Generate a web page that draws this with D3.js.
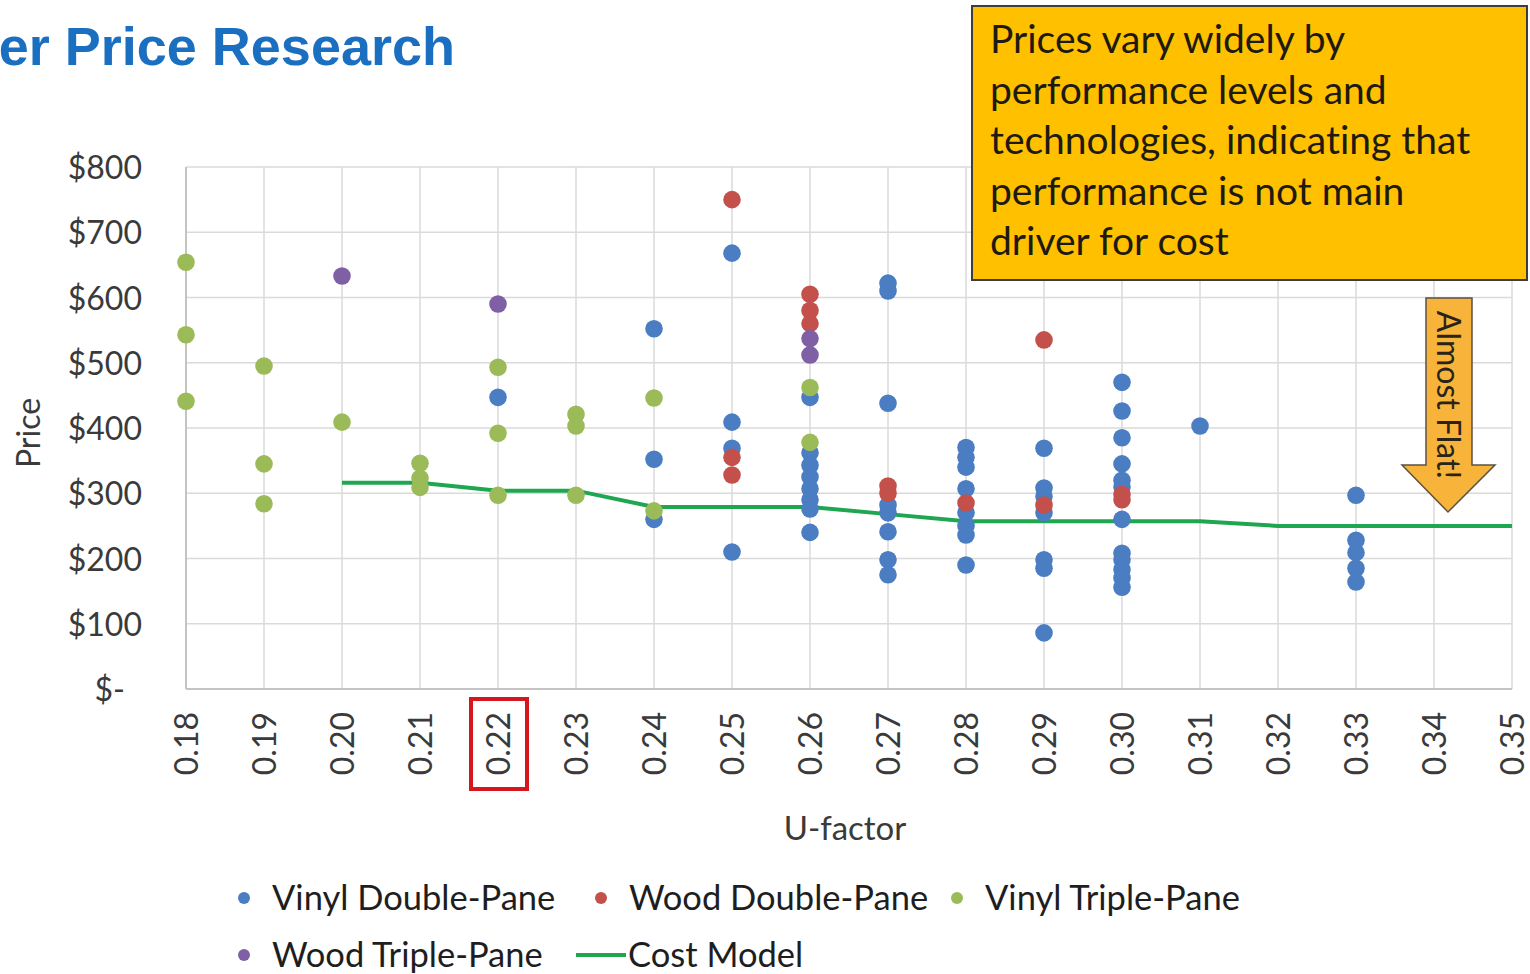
<!DOCTYPE html>
<html>
<head>
<meta charset="utf-8">
<script src="https://cdn.jsdelivr.net/npm/d3@7"></script>
<style>
  html, body { margin: 0; padding: 0; background: #ffffff; }
  svg { display: block; }
  text { font-family: Lato, "Open Sans", sans-serif; font-variant-ligatures: none; }
</style>
</head>
<body>
<svg id="chart" width="1530" height="974"></svg>
<script>
// Window price survey: price vs U-factor by frame/glazing type, plus cost model
const uTicks = [0.18, 0.19, 0.20, 0.21, 0.22, 0.23, 0.24, 0.25, 0.26, 0.27, 0.28, 0.29, 0.30, 0.31, 0.32, 0.33, 0.34, 0.35];
const priceTicks = [0, 100, 200, 300, 400, 500, 600, 700, 800];

// [U-factor, price]
const vinylDouble = [
  [0.22, 447],
  [0.24, 552], [0.24, 352], [0.24, 260],
  [0.25, 668], [0.25, 409], [0.25, 369], [0.25, 210],
  [0.26, 447], [0.26, 362], [0.26, 343], [0.26, 325], [0.26, 307], [0.26, 290], [0.26, 276], [0.26, 240],
  [0.27, 622], [0.27, 610], [0.27, 438], [0.27, 282], [0.27, 270], [0.27, 241], [0.27, 198], [0.27, 175],
  [0.28, 370], [0.28, 355], [0.28, 340], [0.28, 307], [0.28, 270], [0.28, 250], [0.28, 236], [0.28, 190],
  [0.29, 369], [0.29, 308], [0.29, 295], [0.29, 270], [0.29, 198], [0.29, 185], [0.29, 86],
  [0.30, 470], [0.30, 426], [0.30, 385], [0.30, 345], [0.30, 320], [0.30, 310], [0.30, 260],
  [0.30, 208], [0.30, 198], [0.30, 183], [0.30, 170], [0.30, 156],
  [0.31, 403],
  [0.33, 297], [0.33, 228], [0.33, 209], [0.33, 185], [0.33, 164]
];
const woodDouble = [
  [0.25, 750], [0.25, 355], [0.25, 328],
  [0.26, 605], [0.26, 580], [0.26, 560],
  [0.27, 311], [0.27, 300],
  [0.28, 285],
  [0.29, 535], [0.29, 282],
  [0.30, 298], [0.30, 290]
];
const vinylTriple = [
  [0.18, 654], [0.18, 543], [0.18, 441],
  [0.19, 495], [0.19, 345], [0.19, 284],
  [0.20, 409],
  [0.21, 346], [0.21, 323], [0.21, 309],
  [0.22, 493], [0.22, 392], [0.22, 297],
  [0.23, 421], [0.23, 403], [0.23, 297],
  [0.24, 446], [0.24, 273],
  [0.26, 462], [0.26, 378]
];
const woodTriple = [
  [0.20, 633], [0.22, 590], [0.26, 537], [0.26, 512]
];
const costModelU = [0.20, 0.21, 0.22, 0.23, 0.24, 0.25, 0.26, 0.27, 0.28, 0.29, 0.30, 0.31, 0.32, 0.33, 0.34, 0.35];
const costModelPrice = [316, 316, 304, 304, 279, 279, 279, 268, 257, 257, 257, 257, 250, 250, 250, 250];

const seriesNames = ["Vinyl Double-Pane", "Wood Double-Pane", "Vinyl Triple-Pane", "Wood Triple-Pane", "Cost Model"];
const noteLines = [
  "Prices vary widely by",
  "performance levels and",
  "technologies, indicating that",
  "performance is not main",
  "driver for cost"
];

const colors = {
  vinylDouble: "#4a7dc2",
  woodDouble: "#c4504c",
  vinylTriple: "#9bbb59",
  woodTriple: "#7f60a5",
  cost: "#1fa650"
};

const svg = d3.select("#chart");
const plot = { left: 186, right: 1512, top: 167, bottom: 689 };

const x = d3.scaleLinear().domain([0.18, 0.35]).range([plot.left, plot.right]);
const y = d3.scaleLinear().domain([0, 800]).range([plot.bottom, plot.top]);

// Title (left part runs off the page edge)
svg.append("text")
  .attr("x", 455).attr("y", 65)
  .attr("text-anchor", "end")
  .style("font-family", "'Liberation Sans', Arial, sans-serif")
  .style("font-weight", "bold")
  .style("font-size", "54px")
  .attr("fill", "#1b6fc1")
  .text("er Price Research");

// Gridlines
const grid = svg.append("g");
grid.selectAll("line.h").data(priceTicks).join("line")
  .attr("class", "h")
  .attr("x1", plot.left).attr("x2", plot.right)
  .attr("y1", d => y(d)).attr("y2", d => y(d))
  .attr("stroke", "#dadada").attr("stroke-width", 1.5);
grid.selectAll("line.v").data(uTicks).join("line")
  .attr("class", "v")
  .attr("x1", d => x(d)).attr("x2", d => x(d))
  .attr("y1", plot.top).attr("y2", plot.bottom)
  .attr("stroke", "#dadada").attr("stroke-width", 1.5);

// Axis lines
svg.append("line")
  .attr("x1", plot.left).attr("x2", plot.left)
  .attr("y1", plot.top).attr("y2", plot.bottom)
  .attr("stroke", "#c4c4c4").attr("stroke-width", 2);
svg.append("line")
  .attr("x1", plot.left).attr("x2", plot.right)
  .attr("y1", plot.bottom).attr("y2", plot.bottom)
  .attr("stroke", "#c4c4c4").attr("stroke-width", 2);

// Y tick labels (accounting style: zero shows as "$-")
const yAxis = d3.axisLeft(y).tickValues(priceTicks).tickSize(0).tickPadding(0)
  .tickFormat(d => d === 0 ? "$-" : "$" + d);
const gy = svg.append("g").attr("transform", `translate(142,0)`).call(yAxis);
gy.select(".domain").remove();
gy.selectAll("text")
  .attr("x", d => d === 0 ? -17 : 0)
  .attr("dy", "0.36em")
  .style("font-family", "Lato, 'Open Sans', sans-serif")
  .style("font-size", "32px")
  .attr("fill", "#3a3a3a");

// X tick labels, rotated
const xAxis = d3.axisBottom(x).tickValues(uTicks).tickSize(0).tickPadding(0)
  .tickFormat(d3.format(".2f"));
const gx = svg.append("g").attr("transform", `translate(0,${plot.bottom})`).call(xAxis);
gx.select(".domain").remove();
gx.selectAll("text")
  .attr("transform", "rotate(-90)")
  .attr("x", -23).attr("y", 0)
  .attr("dy", "0.36em")
  .attr("text-anchor", "end")
  .style("font-family", "Lato, 'Open Sans', sans-serif")
  .style("font-size", "32px")
  .attr("fill", "#3a3a3a");

// Highlight box around 0.22
svg.append("rect")
  .attr("x", x(0.22) - 27).attr("y", 699)
  .attr("width", 56).attr("height", 90)
  .attr("fill", "none").attr("stroke", "#d5161f").attr("stroke-width", 4);

// Axis titles
svg.append("text")
  .attr("transform", `translate(40,${(plot.top + plot.bottom) / 2 + 5}) rotate(-90)`)
  .attr("text-anchor", "middle")
  .style("font-size", "32px").attr("fill", "#3a3a3a")
  .text("Price");
svg.append("text")
  .attr("x", 845).attr("y", 840)
  .attr("text-anchor", "middle")
  .style("font-size", "33px").attr("fill", "#3a3a3a")
  .text("U-factor");

// Cost model line
const costData = costModelU.map((u, i) => [u, costModelPrice[i]]);
svg.append("path")
  .datum(costData)
  .attr("d", d3.line().x(d => x(d[0])).y(d => y(d[1])))
  .attr("fill", "none")
  .attr("stroke", colors.cost)
  .attr("stroke-width", 4);

// Scatter series
const R = 8.8;
function drawSeries(data, color) {
  svg.append("g").selectAll("circle").data(data).join("circle")
    .attr("cx", d => x(d[0]))
    .attr("cy", d => y(d[1]))
    .attr("r", R)
    .attr("fill", color);
}
drawSeries(vinylDouble, colors.vinylDouble);
drawSeries(woodDouble, colors.woodDouble);
drawSeries(vinylTriple, colors.vinylTriple);
drawSeries(woodTriple, colors.woodTriple);

// Annotation box
svg.append("rect")
  .attr("x", 972).attr("y", 6)
  .attr("width", 555).attr("height", 274)
  .attr("fill", "#ffc000")
  .attr("stroke", "#3d3d3d").attr("stroke-width", 2);
svg.append("g").selectAll("text").data(noteLines).join("text")
  .attr("x", 990)
  .attr("y", (d, i) => 53 + i * 50.5)
  .style("font-size", "39px")
  .attr("fill", "#1e1a10")
  .text(d => d);

// "Almost Flat!" down arrow
const arrowPts = [[1426, 298], [1472, 298], [1472, 465], [1495, 465], [1448, 512], [1402, 465], [1426, 465]];
svg.append("polygon")
  .attr("points", arrowPts.map(p => p.join(",")).join(" "))
  .attr("fill", "#f8b43a")
  .attr("stroke", "#5a5246").attr("stroke-width", 1.5);
svg.append("text")
  .attr("transform", "translate(1449,395) rotate(90)")
  .attr("text-anchor", "middle")
  .attr("dy", "0.36em")
  .style("font-size", "32px")
  .attr("fill", "#2a2418")
  .text("Almost Flat!");

// Legend
const legendItems = [
  { name: seriesNames[0], color: colors.vinylDouble, type: "dot", x: 244, y: 898 },
  { name: seriesNames[1], color: colors.woodDouble, type: "dot", x: 601, y: 898 },
  { name: seriesNames[2], color: colors.vinylTriple, type: "dot", x: 957, y: 898 },
  { name: seriesNames[3], color: colors.woodTriple, type: "dot", x: 244, y: 955 },
  { name: seriesNames[4], color: colors.cost, type: "line", x: 576, y: 955 }
];
const lg = svg.append("g");
legendItems.forEach(it => {
  if (it.type === "dot") {
    lg.append("circle").attr("cx", it.x).attr("cy", it.y).attr("r", 6).attr("fill", it.color);
  } else {
    lg.append("line").attr("x1", it.x).attr("x2", it.x + 50)
      .attr("y1", it.y).attr("y2", it.y)
      .attr("stroke", it.color).attr("stroke-width", 4);
  }
  lg.append("text")
    .attr("x", it.type === "dot" ? it.x + 28 : it.x + 52)
    .attr("y", it.y)
    .attr("dy", "0.36em")
    .style("font-size", "34.5px")
    .attr("fill", "#1e1e1e")
    .text(it.name);
});
</script>
</body>
</html>
